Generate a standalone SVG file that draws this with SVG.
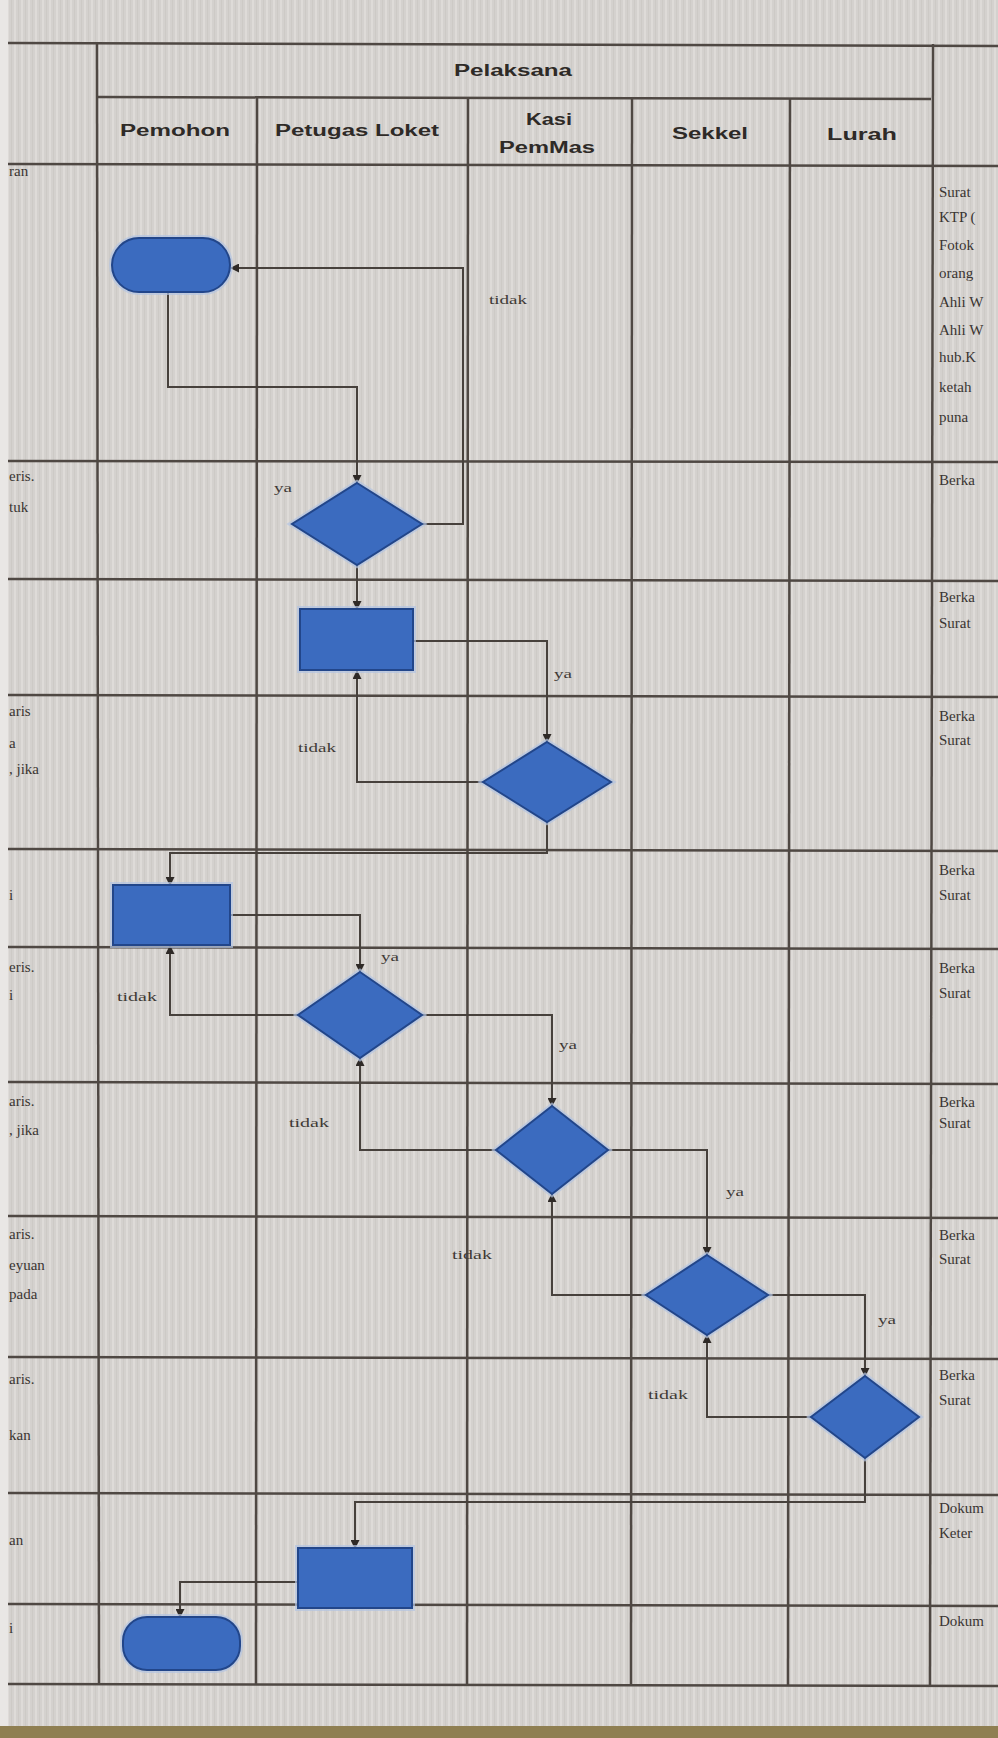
<svg xmlns="http://www.w3.org/2000/svg" width="998" height="1738" viewBox="0 0 998 1738">
<style>
.grid{stroke:#4f4843;stroke-width:2.5;fill:none}
.con{stroke:#47413c;stroke-width:2;fill:none}
.shape{fill:#3b6bbf;stroke:#22468a;stroke-width:2}
.halo{fill:none;stroke:#b3c4e2;stroke-width:6;opacity:0.7}
.hdr{font-family:"Liberation Sans",Arial,sans-serif;font-weight:bold;font-size:16px;fill:#2e2a27;text-anchor:middle}
.side{font-family:"Liberation Serif","Times New Roman",serif;font-size:15px;fill:#3a3532}
.lbl{font-family:"Liberation Serif","Times New Roman",serif;font-size:13px;fill:#3f3a36}
</style>
<defs>
<pattern id="paper" width="7" height="12" patternUnits="userSpaceOnUse">
<rect width="7" height="12" fill="#d4d1ce"/>
<rect x="0" width="2" height="12" fill="#dedbd8"/>
<rect x="4" width="1" height="12" fill="#cdcac6"/>
</pattern>
<marker id="arr" markerWidth="9" markerHeight="9" refX="8" refY="4.5" orient="auto" markerUnits="userSpaceOnUse">
<path d="M0,0 L9,4.5 L0,9 Z" fill="#2f2a27"/>
</marker>
</defs>

<!-- paper -->
<rect width="998" height="1738" fill="url(#paper)"/>
<rect x="0" y="0" width="8" height="1738" fill="#e9e7e5"/>
<rect x="0" y="1726" width="998" height="12" fill="#8f7f52"/>

<!-- table grid -->
<g id="grid">
<line class="grid" x1="8" y1="43" x2="998" y2="46"/>
<line class="grid" x1="98" y1="97" x2="931" y2="99"/>
<line class="grid" x1="8" y1="164" x2="998" y2="166"/>
<line class="grid" x1="8" y1="461" x2="998" y2="462"/>
<line class="grid" x1="8" y1="579" x2="998" y2="581"/>
<line class="grid" x1="8" y1="695" x2="998" y2="697"/>
<line class="grid" x1="8" y1="849" x2="998" y2="851"/>
<line class="grid" x1="8" y1="947" x2="998" y2="949"/>
<line class="grid" x1="8" y1="1082" x2="998" y2="1084"/>
<line class="grid" x1="8" y1="1216" x2="998" y2="1218"/>
<line class="grid" x1="8" y1="1357" x2="998" y2="1359"/>
<line class="grid" x1="8" y1="1493" x2="998" y2="1495"/>
<line class="grid" x1="8" y1="1604" x2="998" y2="1606"/>
<line class="grid" x1="8" y1="1684" x2="998" y2="1686"/>
<line class="grid" x1="97" y1="43" x2="99" y2="1685"/>
<line class="grid" x1="257" y1="98" x2="256" y2="1685"/>
<line class="grid" x1="468" y1="98" x2="467" y2="1685"/>
<line class="grid" x1="632" y1="98" x2="631" y2="1685"/>
<line class="grid" x1="790" y1="98" x2="788" y2="1685"/>
<line class="grid" x1="933" y1="44" x2="930" y2="1685"/>
</g>

<!-- headers -->
<g id="headers">
<text class="hdr" x="513" y="76" textLength="118" lengthAdjust="spacingAndGlyphs">Pelaksana</text>
<text class="hdr" x="175" y="136" textLength="110" lengthAdjust="spacingAndGlyphs">Pemohon</text>
<text class="hdr" x="357" y="136" textLength="164" lengthAdjust="spacingAndGlyphs">Petugas Loket</text>
<text class="hdr" x="549" y="125" textLength="46" lengthAdjust="spacingAndGlyphs">Kasi</text>
<text class="hdr" x="547" y="153" textLength="96" lengthAdjust="spacingAndGlyphs">PemMas</text>
<text class="hdr" x="710" y="139" textLength="76" lengthAdjust="spacingAndGlyphs">Sekkel</text>
<text class="hdr" x="862" y="140" textLength="70" lengthAdjust="spacingAndGlyphs">Lurah</text>
</g>

<!-- left column fragments -->
<g id="left-column">
<text class="side" x="9" y="176" font-size="12">ran</text>
<text class="side" x="9" y="481">eris.</text>
<text class="side" x="9" y="512">tuk</text>
<text class="side" x="9" y="716">aris</text>
<text class="side" x="9" y="748">a</text>
<text class="side" x="9" y="774">, jika</text>
<text class="side" x="9" y="900">i</text>
<text class="side" x="9" y="972">eris.</text>
<text class="side" x="9" y="1000">i</text>
<text class="side" x="9" y="1106">aris.</text>
<text class="side" x="9" y="1135">, jika</text>
<text class="side" x="9" y="1239">aris.</text>
<text class="side" x="9" y="1270">eyuan</text>
<text class="side" x="9" y="1299">pada</text>
<text class="side" x="9" y="1384">aris.</text>
<text class="side" x="9" y="1440">kan</text>
<text class="side" x="9" y="1545">an</text>
<text class="side" x="9" y="1633">i</text>
</g>

<!-- right column fragments -->
<g id="right-column">
<text class="side" x="939" y="197">Surat</text>
<text class="side" x="939" y="222">KTP (</text>
<text class="side" x="939" y="250">Fotok</text>
<text class="side" x="939" y="278">orang</text>
<text class="side" x="939" y="307">Ahli W</text>
<text class="side" x="939" y="335">Ahli W</text>
<text class="side" x="939" y="362">hub.K</text>
<text class="side" x="939" y="392">ketah</text>
<text class="side" x="939" y="422">puna</text>
<text class="side" x="939" y="485">Berka</text>
<text class="side" x="939" y="602">Berka</text>
<text class="side" x="939" y="628">Surat</text>
<text class="side" x="939" y="721">Berka</text>
<text class="side" x="939" y="745">Surat</text>
<text class="side" x="939" y="875">Berka</text>
<text class="side" x="939" y="900">Surat</text>
<text class="side" x="939" y="973">Berka</text>
<text class="side" x="939" y="998">Surat</text>
<text class="side" x="939" y="1107">Berka</text>
<text class="side" x="939" y="1128">Surat</text>
<text class="side" x="939" y="1240">Berka</text>
<text class="side" x="939" y="1264">Surat</text>
<text class="side" x="939" y="1380">Berka</text>
<text class="side" x="939" y="1405">Surat</text>
<text class="side" x="939" y="1513">Dokum</text>
<text class="side" x="939" y="1538">Keter</text>
<text class="side" x="939" y="1626">Dokum</text>
</g>

<!-- connectors -->
<g id="connectors">
<polyline class="con" points="168,292 168,387 357,387 357,483" marker-end="url(#arr)"/>
<polyline class="con" points="422,524 463,524 463,268 231,268" marker-end="url(#arr)"/>
<polyline class="con" points="357,565 357,609" marker-end="url(#arr)"/>
<polyline class="con" points="413,641 547,641 547,742" marker-end="url(#arr)"/>
<polyline class="con" points="483,782 357,782 357,671" marker-end="url(#arr)"/>
<polyline class="con" points="547,822 547,853 170,853 170,885" marker-end="url(#arr)"/>
<polyline class="con" points="230,915 360,915 360,972" marker-end="url(#arr)"/>
<polyline class="con" points="298,1015 170,1015 170,946" marker-end="url(#arr)"/>
<polyline class="con" points="422,1015 552,1015 552,1106" marker-end="url(#arr)"/>
<polyline class="con" points="496,1150 360,1150 360,1058" marker-end="url(#arr)"/>
<polyline class="con" points="608,1150 707,1150 707,1255" marker-end="url(#arr)"/>
<polyline class="con" points="646,1295 552,1295 552,1194" marker-end="url(#arr)"/>
<polyline class="con" points="768,1295 865,1295 865,1376" marker-end="url(#arr)"/>
<polyline class="con" points="811,1417 707,1417 707,1335" marker-end="url(#arr)"/>
<polyline class="con" points="865,1458 865,1502 355,1502 355,1548" marker-end="url(#arr)"/>
<polyline class="con" points="298,1582 180,1582 180,1617" marker-end="url(#arr)"/>
<text class="lbl" x="508" y="304" text-anchor="middle" textLength="38" lengthAdjust="spacingAndGlyphs">tidak</text>
<text class="lbl" x="283" y="492" text-anchor="middle" textLength="18" lengthAdjust="spacingAndGlyphs">ya</text>
<text class="lbl" x="563" y="678" text-anchor="middle" textLength="18" lengthAdjust="spacingAndGlyphs">ya</text>
<text class="lbl" x="317" y="752" text-anchor="middle" textLength="38" lengthAdjust="spacingAndGlyphs">tidak</text>
<text class="lbl" x="390" y="961" text-anchor="middle" textLength="18" lengthAdjust="spacingAndGlyphs">ya</text>
<text class="lbl" x="137" y="1001" text-anchor="middle" textLength="40" lengthAdjust="spacingAndGlyphs">tidak</text>
<text class="lbl" x="568" y="1049" text-anchor="middle" textLength="18" lengthAdjust="spacingAndGlyphs">ya</text>
<text class="lbl" x="309" y="1127" text-anchor="middle" textLength="40" lengthAdjust="spacingAndGlyphs">tidak</text>
<text class="lbl" x="735" y="1196" text-anchor="middle" textLength="18" lengthAdjust="spacingAndGlyphs">ya</text>
<text class="lbl" x="472" y="1259" text-anchor="middle" textLength="40" lengthAdjust="spacingAndGlyphs">tidak</text>
<text class="lbl" x="887" y="1324" text-anchor="middle" textLength="18" lengthAdjust="spacingAndGlyphs">ya</text>
<text class="lbl" x="668" y="1399" text-anchor="middle" textLength="40" lengthAdjust="spacingAndGlyphs">tidak</text>
</g>

<!-- nodes -->
<g id="start">
<rect class="halo" x="112" y="238" width="118" height="54" rx="27"/>
<rect class="shape" x="112" y="238" width="118" height="54" rx="27"/>
</g>
<g id="decision1">
<polygon class="halo" points="357,483 422,524 357,565 292,524"/>
<polygon class="shape" points="357,483 422,524 357,565 292,524"/>
</g>
<g id="process1">
<rect class="halo" x="300" y="609" width="113" height="61"/>
<rect class="shape" x="300" y="609" width="113" height="61"/>
</g>
<g id="decision2">
<polygon class="halo" points="547,742 611,782 547,822 483,782"/>
<polygon class="shape" points="547,742 611,782 547,822 483,782"/>
</g>
<g id="process2">
<rect class="halo" x="113" y="885" width="117" height="60"/>
<rect class="shape" x="113" y="885" width="117" height="60"/>
</g>
<g id="decision3">
<polygon class="halo" points="360,972 422,1015 360,1058 298,1015"/>
<polygon class="shape" points="360,972 422,1015 360,1058 298,1015"/>
</g>
<g id="decision4">
<polygon class="halo" points="552,1106 608,1150 552,1194 496,1150"/>
<polygon class="shape" points="552,1106 608,1150 552,1194 496,1150"/>
</g>
<g id="decision5">
<polygon class="halo" points="707,1255 768,1295 707,1335 646,1295"/>
<polygon class="shape" points="707,1255 768,1295 707,1335 646,1295"/>
</g>
<g id="decision6">
<polygon class="halo" points="865,1376 919,1417 865,1458 811,1417"/>
<polygon class="shape" points="865,1376 919,1417 865,1458 811,1417"/>
</g>
<g id="process3">
<rect class="halo" x="298" y="1548" width="114" height="60"/>
<rect class="shape" x="298" y="1548" width="114" height="60"/>
</g>
<g id="end">
<rect class="halo" x="123" y="1617" width="117" height="53" rx="24"/>
<rect class="shape" x="123" y="1617" width="117" height="53" rx="24"/>
</g>
</svg>
